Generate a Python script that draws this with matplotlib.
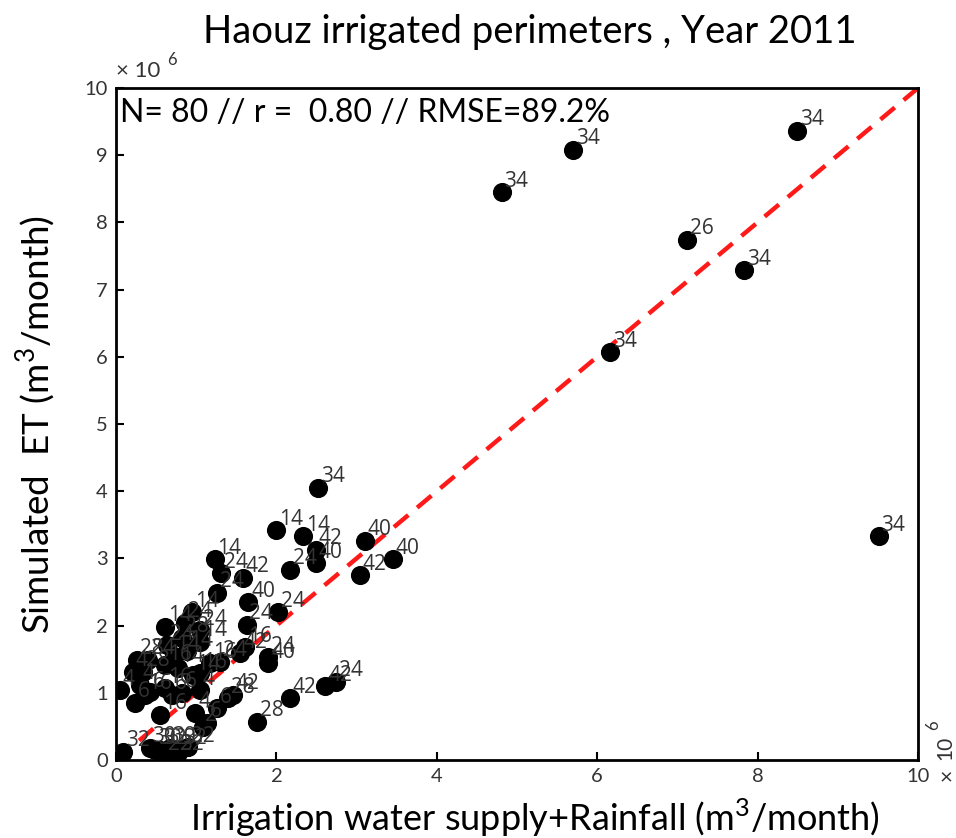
import matplotlib
matplotlib.use("Agg")
import matplotlib.pyplot as plt
import numpy as np

plt.rcParams['font.family'] = ['Lato', 'DejaVu Sans']
plt.rcParams['mathtext.fontset'] = 'custom'
plt.rcParams['mathtext.rm'] = 'Lato'

# Irrigation water supply + rainfall (x 1e6 m3/month)
supply = [8.49, 5.70, 4.81, 7.12, 7.83, 6.16, 9.51, 2.52, 2.00, 2.33,
          2.49, 2.49, 2.17, 3.10, 3.04, 3.45, 1.23, 1.31, 1.58, 1.26,
          1.65, 2.02, 0.95, 0.61, 0.86, 1.05, 0.82, 1.05, 1.63, 0.64,
          0.26, 0.21, 0.34, 0.61, 0.77, 0.96, 0.05, 0.24, 0.42, 0.61,
          0.82, 0.55, 0.99, 1.55, 1.61, 1.90, 1.90, 1.17, 1.30, 1.05,
          1.46, 1.40, 1.26, 1.13, 1.08, 1.76, 2.17, 2.61, 2.74, 0.09,
          0.42, 0.55, 0.67, 0.80, 0.90, 0.61, 0.76, 0.49, 0.40, 1.05,
          0.70, 0.36, 0.72, 0.30, 0.88]
# Simulated ET (x 1e6 m3/month)
sim_et = [9.36, 9.08, 8.45, 7.74, 7.29, 6.07, 3.33, 4.05, 3.42, 3.33,
          3.13, 2.93, 2.83, 3.26, 2.75, 2.99, 2.99, 2.78, 2.71, 2.49,
          2.35, 2.20, 2.20, 1.98, 2.04, 1.93, 1.82, 1.76, 2.01, 1.71,
          1.49, 1.31, 1.31, 1.41, 1.37, 1.26, 1.04, 0.85, 1.01, 1.07,
          1.00, 0.67, 0.70, 1.59, 1.68, 1.53, 1.44, 1.44, 1.46, 1.29,
          0.97, 0.92, 0.77, 0.55, 0.49, 0.57, 0.92, 1.10, 1.16, 0.12,
          0.18, 0.15, 0.18, 0.15, 0.19, 0.07, 0.07, 0.15, 1.49, 1.04,
          0.97, 0.97, 1.55, 1.12, 1.62]
# perimeter id shown next to each point
ids = ["34", "34", "34", "26", "34", "34", "34", "34", "14", "14",
       "42", "40", "24", "40", "42", "40", "14", "24", "42", "24",
       "40", "24", "14", "14", "24", "24", "28", "14", "24", "24",
       "28", "4", "28", "16", "14", "14", "4", "6", "6", "16",
       "6", "16", "4", "42", "16", "24", "40", "16", "24", "16",
       "42", "28", "6", "6", "2", "28", "42", "42", "24", "32",
       "30", "32", "30", "32", "22", "22", "32", "30", "24", "4",
       "6", "16", "14", "4", "14"]

stats_text = "N= 80 // r =  0.80 // RMSE=89.2%"

fig = plt.figure(figsize=(9.56, 8.38), dpi=100)
ax = fig.add_axes([0.1213, 0.0931, 0.8390, 0.8019])

ax.plot([0, 10], [0, 10], "--", color="#FF1A1A", linewidth=3.2,
        dashes=(4.2, 2.6), zorder=2)
ax.scatter(supply, sim_et, s=190, color="black", zorder=3, linewidths=0)

for x, y, lab in zip(supply, sim_et, ids):
    ax.annotate(lab, (x, y), xytext=(2, 4), textcoords="offset points",
                fontsize=15, color="#333333", family=["Open Sans", "DejaVu Sans"],
                zorder=4)

ax.set_xlim(0, 10)
ax.set_ylim(0, 10)
ax.set_xticks(range(0, 11, 2))
ax.set_yticks(range(0, 11, 1))
ax.tick_params(direction="in", length=6, width=1.5, labelsize=14.5,
               labelcolor="#333333", pad=6)
for sp in ax.spines.values():
    sp.set_linewidth(2)

ax.text(0.005, 0.985, stats_text, transform=ax.transAxes, ha="left", va="top",
        fontsize=23, color="black")

# exponent markers
ax.text(0.0, 1.01, "\u00d7 10", transform=ax.transAxes, ha="left",
        va="bottom", fontsize=16, color="#333333")
ax.text(0.064, 1.03, "6", transform=ax.transAxes, ha="left",
        va="bottom", fontsize=12, color="#333333")
ax.text(1.027, -0.012, "\u00d7", transform=ax.transAxes, ha="left",
        va="top", fontsize=16, color="#333333")
ax.text(1.021, 0.0, "10", transform=ax.transAxes, ha="left",
        va="bottom", fontsize=15, color="#333333", rotation=90)
ax.text(1.009, 0.045, "6", transform=ax.transAxes, ha="left",
        va="bottom", fontsize=12, color="#333333", rotation=90)

fig.text(0.554, 0.962, "Haouz irrigated perimeters , Year 2011",
         ha="center", va="center", fontsize=27.5)
ax.set_xlabel(r"Irrigation water supply+Rainfall (m$^3$/month)", fontsize=26,
              labelpad=4)
ax.xaxis.set_label_coords(0.522, -0.055, transform=ax.transAxes)
ax.xaxis.label.set_va("top")
ax.set_ylabel(r"Simulated  ET (m$^3$/month)", fontsize=26.5, labelpad=18)

fig.savefig("out.png", dpi=100)
